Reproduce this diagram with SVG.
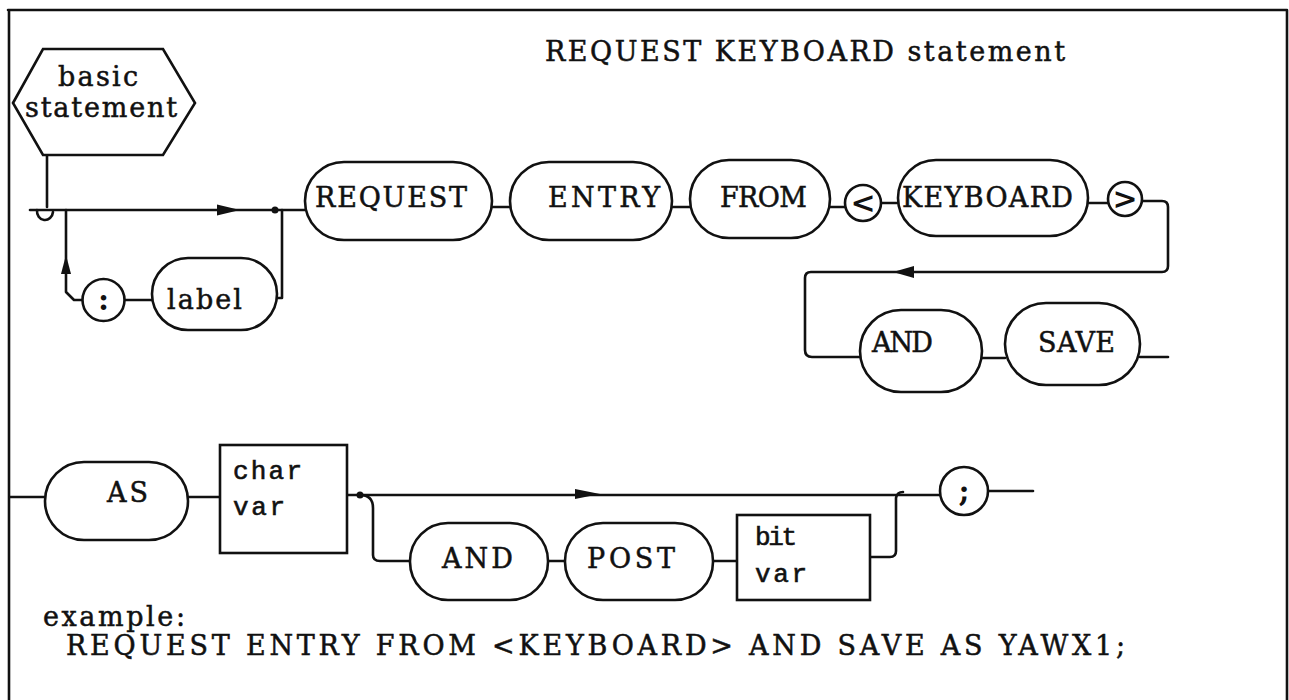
<svg xmlns="http://www.w3.org/2000/svg" width="1289" height="700" viewBox="0 0 1289 700">
<style>
  .t { font-family: "DejaVu Serif", "Liberation Serif", serif; font-size: 27px; fill: #111; stroke: #111; stroke-width: 0.5; }
  .sym { font-family: "DejaVu Serif", "Liberation Serif", serif; font-size: 30px; font-weight: bold; fill: #111; text-anchor: middle; }
  .m { font-family: "Liberation Mono", "DejaVu Sans Mono", monospace; font-size: 26px; fill: #111; stroke: #111; stroke-width: 0.6; }
  .s { fill: none; stroke: #111; stroke-width: 2.6; stroke-linejoin: round; stroke-linecap: round; }
  .n { fill: #fff; stroke: #111; stroke-width: 2.6; }
  .a { fill: #111; stroke: none; }
</style>
<rect width="1289" height="700" fill="#fff"/>
<g id="frame">
  <path class="s" d="M8 10 H1287 M9 10 V700 M1287 10 V700"/>
</g>
<text id="title" class="t" x="545" y="61" textLength="520" lengthAdjust="spacing">REQUEST KEYBOARD statement</text>

<g id="connectors">
  <path class="s" d="M47 155 V207"/>
  <path class="s" d="M37 210 A 8 9 0 0 0 53 212"/>
  <path class="s" d="M30 210 H305"/>
  <polygon class="a" points="217,204.5 240,210 217,215.5"/>
  <circle class="a" cx="275" cy="210" r="3.5"/>
  <path class="s" d="M66 210 V292 L74 300 H82"/>
  <polygon class="a" points="61,274 66,255 71,274"/>
  <path class="s" d="M125 300 H152"/>
  <path class="s" d="M277 298 H282 V210"/>
  <path class="s" d="M492 207 H510"/>
  <path class="s" d="M672 207 H690"/>
  <path class="s" d="M830 207 H845"/>
  <path class="s" d="M881 203 H898"/>
  <path class="s" d="M1088 203 H1108"/>
  <path class="s" d="M1142 201 H1162 Q1168 201 1168 207 V266 Q1168 272 1162 272 H811 Q805 272 805 278 V350 Q805 357 812 357 H860"/>
  <polygon class="a" points="893,272 914,266 914,278"/>
  <path class="s" d="M982 358 H1005"/>
  <path class="s" d="M1140 357 H1168"/>
  <path class="s" d="M10 497 H45"/>
  <path class="s" d="M188 497 H220"/>
  <path class="s" d="M347 495 H940"/>
  <circle class="a" cx="360" cy="495" r="3.5"/>
  <polygon class="a" points="575,489 600,494 575,499"/>
  <path class="s" d="M360 495 Q373 495 373 508 V555 Q373 561 380 561 H410"/>
  <path class="s" d="M548 561 H565"/>
  <path class="s" d="M713 561 H737"/>
  <path class="s" d="M870 557 H890 Q896 557 896 551 V498 Q897 492 903 492"/>
  <path class="s" d="M988 491 H1033"/>
</g>

<g id="basic-statement">
  <polygon class="n" points="13,103 43,49 163,49 195,103 163,155 43,155"/>
  <text class="t" x="58" y="86" textLength="80" lengthAdjust="spacing">basic</text>
  <text class="t" x="25" y="117" textLength="152" lengthAdjust="spacing">statement</text>
</g>
<g id="colon">
  <circle class="n" cx="103.5" cy="300" r="21"/>
  <text class="sym" x="103.5" y="310">:</text>
</g>
<g id="label">
  <rect class="n" x="152" y="258" width="125" height="72" rx="36"/>
  <text class="t" x="167" y="309" textLength="75" lengthAdjust="spacing">label</text>
</g>
<g id="request">
  <rect class="n" x="305" y="162" width="187" height="78" rx="39"/>
  <text class="t" x="315" y="207" textLength="152" lengthAdjust="spacing">REQUEST</text>
</g>
<g id="entry">
  <rect class="n" x="510" y="162" width="162" height="78" rx="39"/>
  <text class="t" x="548" y="207" textLength="112" lengthAdjust="spacing">ENTRY</text>
</g>
<g id="from">
  <rect class="n" x="690" y="160" width="140" height="78" rx="39"/>
  <text class="t" x="720" y="207" textLength="87" lengthAdjust="spacing">FROM</text>
</g>
<g id="lt">
  <circle class="n" cx="863" cy="203" r="18"/>
  <text class="sym" x="863" y="213">&lt;</text>
</g>
<g id="keyboard">
  <rect class="n" x="898" y="160" width="190" height="76" rx="38"/>
  <text class="t" x="902" y="207" textLength="171" lengthAdjust="spacing">KEYBOARD</text>
</g>
<g id="gt">
  <circle class="n" cx="1125" cy="199" r="17"/>
  <text class="sym" x="1125" y="209">&gt;</text>
</g>
<g id="and1">
  <rect class="n" x="860" y="310" width="122" height="82" rx="41"/>
  <text class="t" x="872" y="352" textLength="61" lengthAdjust="spacing">AND</text>
</g>
<g id="save">
  <rect class="n" x="1005" y="303" width="135" height="82" rx="41"/>
  <text class="t" x="1038" y="352" textLength="77" lengthAdjust="spacing">SAVE</text>
</g>
<g id="as">
  <rect class="n" x="45" y="462" width="143" height="78" rx="39"/>
  <text class="t" x="107" y="502" textLength="41" lengthAdjust="spacing">AS</text>
</g>
<g id="char-var">
  <rect class="n" x="220" y="445" width="127" height="108"/>
  <text class="m" x="233" y="479" textLength="69" lengthAdjust="spacing">char</text>
  <text class="m" x="233" y="515" textLength="52" lengthAdjust="spacing">var</text>
</g>
<g id="and2">
  <rect class="n" x="410" y="523" width="138" height="77" rx="38"/>
  <text class="t" x="442" y="568" textLength="71" lengthAdjust="spacing">AND</text>
</g>
<g id="post">
  <rect class="n" x="565" y="523" width="148" height="77" rx="38"/>
  <text class="t" x="587" y="568" textLength="88" lengthAdjust="spacing">POST</text>
</g>
<g id="bit-var">
  <rect class="n" x="737" y="515" width="133" height="85"/>
  <text class="m" x="755" y="545" textLength="42" lengthAdjust="spacing">bit</text>
  <text class="m" x="755" y="582" textLength="52" lengthAdjust="spacing">var</text>
</g>
<g id="semicolon">
  <circle class="n" cx="964" cy="491" r="24"/>
  <text class="sym" x="964" y="501">;</text>
</g>

<g id="example">
  <text class="t" x="43" y="626" textLength="142" lengthAdjust="spacing">example:</text>
  <text class="t" x="66" y="655" textLength="1059" lengthAdjust="spacing">REQUEST ENTRY FROM &lt;KEYBOARD&gt; AND SAVE AS YAWX1;</text>
</g>
</svg>
